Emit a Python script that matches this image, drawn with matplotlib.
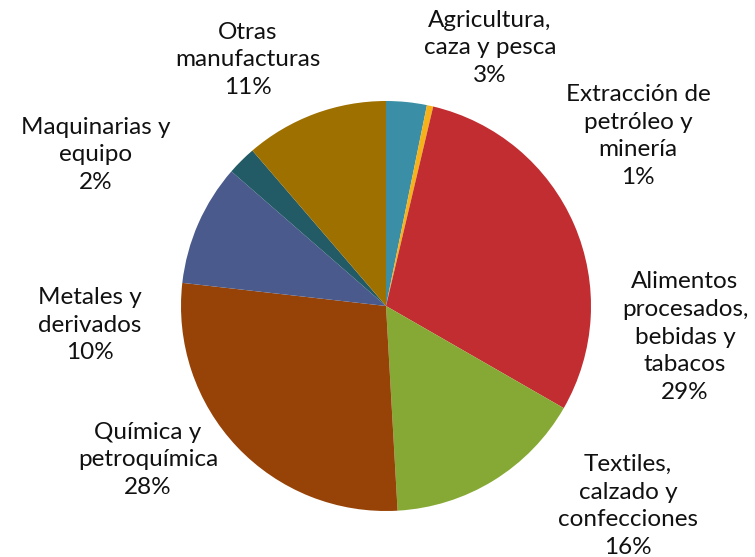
import numpy as np
import matplotlib.pyplot as plt

plt.rcParams['font.family'] = ['Lato', 'DejaVu Sans']

sectores = ['Agricultura,\ncaza y pesca', 'Extracción de\npetróleo y\nminería',
            'Alimentos\nprocesados,\nbebidas y\ntabacos', 'Textiles,\ncalzado y\nconfecciones',
            'Química y\npetroquímica', 'Metales y\nderivados', 'Maquinarias y\nequipo',
            'Otras\nmanufacturas']
valores = [3.2, 0.5, 29.6, 15.8, 27.7, 9.6, 2.3, 11.3]
etiquetas_pct = ['3%', '1%', '29%', '16%', '28%', '10%', '2%', '11%']
colores = ['#3A8FA6', '#F5B21A', '#C12D30', '#86A935', '#974207', '#4A5A8C', '#225A65', '#9E7000']

# label centres in pixels of the 755x557 picture
pos_px = [(490, 48), (638, 136), (685, 337), (628, 506),
          (148, 460), (90, 325), (96, 155), (248, 60)]

cx, cy, r = 386, 306, 205
W, H = 755, 557

fig = plt.figure(figsize=(7.55, 5.57), dpi=100)
ax = fig.add_axes([0, 0, 1, 1])
ax.pie(valores, colors=colores, startangle=90, counterclock=False, radius=1,
       wedgeprops=dict(linewidth=0))
ax.set_xlim(-cx / r, (W - cx) / r)
ax.set_ylim(-(H - cy) / r, cy / r)
ax.set_aspect('equal')
ax.axis('off')

for s, p, (px, py) in zip(sectores, etiquetas_pct, pos_px):
    ax.text((px - cx) / r, (cy - py) / r, s + '\n' + p, ha='center', va='center',
            fontsize=17.5, linespacing=1.4, color='#111111')

plt.savefig('out.png', dpi=100, facecolor='white')
